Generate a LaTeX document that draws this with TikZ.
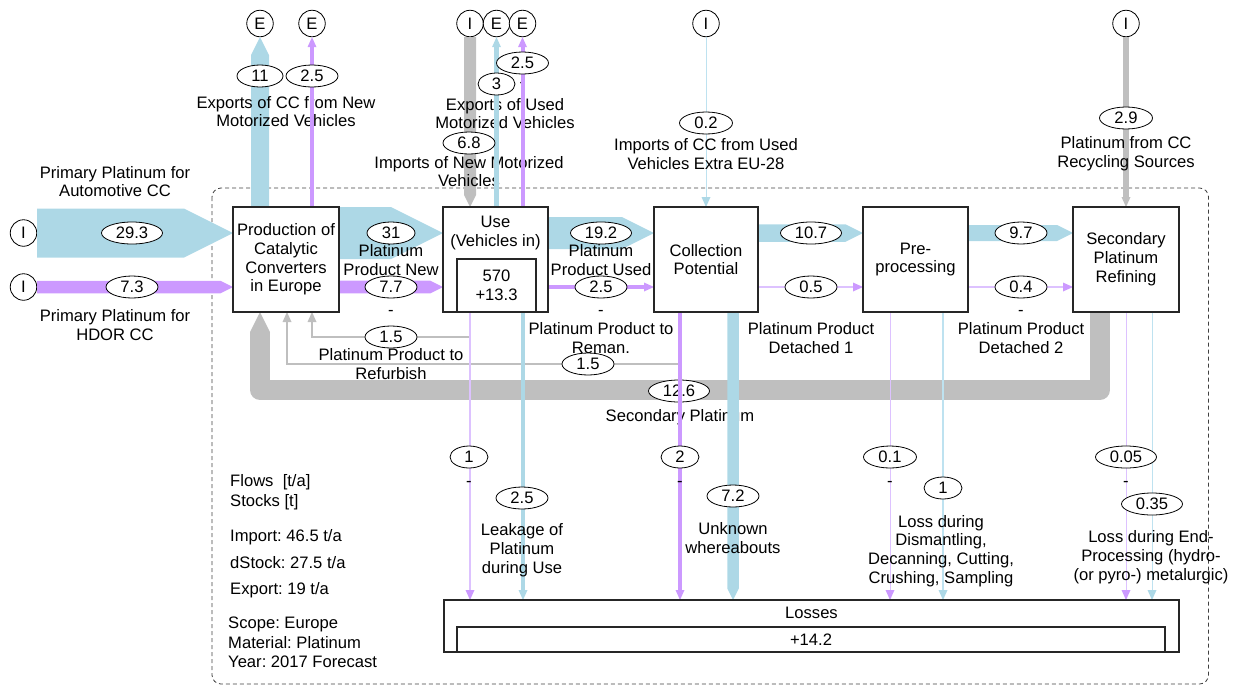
\documentclass[tikz,border=0pt]{standalone}
\usepackage{fontspec}
\setmainfont{Liberation Sans}
\usetikzlibrary{shapes.geometric,arrows.meta,calc}
\definecolor{fblue}{RGB}{173,216,230}
\definecolor{fpur}{RGB}{204,153,255}
\definecolor{fgray}{RGB}{191,191,191}
\definecolor{fbluel}{RGB}{190,226,240}
\definecolor{fpurl}{RGB}{221,194,255}
\newcommand\lblfont{\fontsize{16.6pt}{18.8pt}\selectfont\frenchspacing}
% band with arrow head: rightwards, upwards, downwards
\newcommand\bandR[4]{\fill[#1] ($(#2)+(0,-#4/2)$) -- ($(#3)+(-#4,-#4/2)$) -- (#3) -- ($(#3)+(-#4,#4/2)$) -- ($(#2)+(0,#4/2)$) -- cycle;}
\newcommand\bandU[4]{\fill[#1] ($(#2)+(-#4/2,0)$) -- ($(#3)+(-#4/2,#4)$) -- (#3) -- ($(#3)+(#4/2,#4)$) -- ($(#2)+(#4/2,0)$) -- cycle;}
\newcommand\bandD[4]{\fill[#1] ($(#2)+(-#4/2,0)$) -- ($(#3)+(-#4/2,-#4)$) -- (#3) -- ($(#3)+(#4/2,-#4)$) -- ($(#2)+(#4/2,0)$) -- cycle;}
\frenchspacing
\begin{document}
\begin{tikzpicture}[x=1pt,y=-1pt,
  every node/.style={font=\lblfont},
  lbl/.style={align=center, inner sep=0pt},
  leg/.style={anchor=west, inner sep=0pt},
  flowval/.style={ellipse, draw=black, line width=0.8pt, fill=white, inner sep=0pt, minimum height=22pt, minimum width=#1},
  procshape/.style={rectangle, inner sep=0pt, outer sep=0pt, align=center},
  procline/.style={draw=black!85, line width=1.1pt},
  term/.style={circle, draw=black, line width=0.8pt, fill=white, inner sep=0pt, minimum size=26.5pt},
  ahead/.style={-{Triangle[length=10pt,width=9pt,line width=0pt,fill=#1,color=#1]}},
]
\useasboundingbox (0,0) rectangle (1240,686);

% system boundary
\draw[black!75, line width=0.8pt, dash pattern=on 4pt off 3pt, rounded corners=9pt] (212,188) rectangle (1208.5,684);

% terminals
\node[term] (i1) at (23.5,233) {I};
\node[term] (i2) at (23.5,287) {I};
\node[term] (e1) at (260,23.5) {E};
\node[term] (e2) at (312,23.5) {E};
\node[term] (i3) at (470,23.5) {I};
\node[term] (e3) at (496.5,23.5) {E};
\node[term] (e4) at (522.5,23.5) {E};
\node[term] (i4) at (706,23.5) {I};
\node[term] (i5) at (1126,23.5) {I};

% processes (outlines drawn at the end)
\node[procshape, minimum width=106pt, minimum height=105pt] (prod) at (286,259.5) {Production of\\Catalytic\\Converters\\in Europe};
\node[procshape, minimum width=105pt, minimum height=105pt] (use) at (495.5,259.5) {};
\node[lbl] (usetxt) at (495.5,233) {Use\\(Vehicles in)};
\node[procshape, minimum width=79pt, minimum height=53pt] (stock) at (496.5,285.5) {570\\+13.3};
\node[procshape, minimum width=104pt, minimum height=105pt] (coll) at (706,259.5) {Collection\\Potential};
\node[procshape, minimum width=105pt, minimum height=105pt] (pre) at (915.5,259.5) {Pre-\\processing};
\node[procshape, minimum width=106pt, minimum height=105pt] (sec) at (1126,259.5) {Secondary\\Platinum\\Refining};
\node[procshape, minimum width=735pt, minimum height=52pt] (loss) at (811.5,626) {};
\node[lbl] (losstxt) at (811.5,613) {Losses};
\node[procshape, minimum width=708pt, minimum height=25pt] (lstock) at (811,639.5) {+14.2};

\coordinate (yb) at (0,233);
\coordinate (yp) at (0,287);

% secondary platinum loop
\coordinate (g1) at (1100,390);
\coordinate (g2) at (260,390);
\coordinate (g0) at (sec.south -| g1);
\coordinate (g3) at (g2 |- prod.south);
\draw[fgray, line width=20pt, line join=round] (g0) -- (g1) -- (g2) -- ($(g3)+(0,19.5)$);
\fill[fgray] ($(g3)+(-10,20)$) -- (g3) -- ($(g3)+(10,20)$) -- cycle;
\node[flowval=61pt] (v126) at (679,391) {12.6};
\node[lbl] (t126) at (680,417) {Secondary Platinum};

% wide bands
\coordinate (a1) at (i1.east); \coordinate (a2) at (i1 -| prod.west);
\bandR{fblue}{a1}{a2}{49}
\coordinate (b1) at (i2.east); \coordinate (b2) at (i2 -| prod.west);
\bandR{fpur}{b1}{b2}{12.5}
\coordinate (c1) at (prod.north -| e1); \coordinate (c2) at (e1.south);
\bandU{fblue}{c1}{c2}{18}
\coordinate (d1) at (prod.east |- yb); \coordinate (d2) at (use.west |- yb);
\bandR{fblue}{d1}{d2}{52}
\coordinate (d3) at (prod.east |- yp); \coordinate (d4) at (use.west |- yp);
\bandR{fpur}{d3}{d4}{12.7}
\coordinate (f1) at (i3.south); \coordinate (f2) at (i3 |- use.north);
\bandD{fgray}{f1}{f2}{12}
\coordinate (h1) at (use.east |- yb); \coordinate (h2) at (coll.west |- yb);
\bandR{fblue}{h1}{h2}{32}
\coordinate (k1) at (coll.east |- yb); \coordinate (k2) at (pre.west |- yb);
\bandR{fblue}{k1}{k2}{17.5}
\coordinate (m1) at (pre.east |- yb); \coordinate (m2) at (sec.west |- yb);
\bandR{fblue}{m1}{m2}{16}

% thinner flows
\draw[fpur, line width=4pt, ahead=fpur] (use.east |- yp) -- (coll.west |- yp);
\draw[fpurl, line width=1.2pt, ahead=fpur] (coll.east |- yp) -- (pre.west |- yp);
\draw[fpurl, line width=1.2pt, ahead=fpur] (pre.east |- yp) -- (sec.west |- yp);
\draw[fbluel, line width=1pt, ahead=fblue] (i4.south) -- (i4 |- coll.north);
\draw[fgray, line width=5.5pt, ahead=fgray] (i5.south) -- (i5 |- sec.north);

% refurbish / reman
\coordinate (r1) at (470,337); \coordinate (r2) at (312,337);
\draw[fgray, line width=2pt, ahead=fgray] (r1 |- use.south) -- (r1) -- (r2) -- (r2 |- prod.south);
\coordinate (s1) at (680,364); \coordinate (s2) at (287,364);
\draw[fgray, line width=2pt, ahead=fgray] (s1 |- coll.south) -- (s1) -- (s2) -- (s2 |- prod.south);

% losses
\coordinate (l1) at (470,0);
\coordinate (l2) at (523,0);
\coordinate (l3) at (680,0);
\coordinate (l4) at (733,0);
\coordinate (l5) at (890,0);
\coordinate (l6) at (943,0);
\coordinate (l7) at (1126,0);
\coordinate (l8) at (1152,0);
\coordinate (n1) at (l4 |- coll.south); \coordinate (n2) at (l4 |- loss.north);
\bandD{fblue}{n1}{n2}{11.5}
\draw[fpurl, line width=1.6pt, ahead=fpur] (l1 |- use.south) -- (l1 |- loss.north);
\draw[fblue, line width=4pt, ahead=fblue] (l2 |- use.south) -- (l2 |- loss.north);
\draw[fpur, line width=3.3pt, ahead=fpur] (l3 |- coll.south) -- (l3 |- loss.north);
\draw[fpurl, line width=1pt, ahead=fpur] (l5 |- pre.south) -- (l5 |- loss.north);
\draw[fbluel, line width=1.6pt, ahead=fblue] (l6 |- pre.south) -- (l6 |- loss.north);
\draw[fpurl, line width=1pt, ahead=fpur] (l7 |- sec.south) -- (l7 |- loss.north);
\draw[fbluel, line width=1pt, ahead=fblue] (l8 |- sec.south) -- (l8 |- loss.north);

% flow labels
\node[lbl] (tpp1) at (115,181.5) {Primary Platinum for\\Automotive CC};
\node[lbl] (tpp2) at (115,325) {Primary Platinum for\\HDOR CC};
\node[lbl] (tex1) at (286,111.5) {Exports of CC from New\\Motorized Vehicles};
\node[lbl] (tex2) at (505,113.5) {Exports of Used\\Motorized Vehicles};
\node[lbl] (tim1) at (469,171.5) {Imports of New Motorized\\Vehicles};
\node[lbl] (tim2) at (706,154) {Imports of CC from Used\\Vehicles Extra EU-28};
\node[lbl] (tim3) at (1126,154) {Platinum from CC\\Recycling Sources};
\node[lbl] (tpn) at (391,260) {Platinum\\Product New};
\node[lbl] (trf) at (391,364) {Platinum Product to\\Refurbish};
\node[lbl] (tpu) at (601,260) {Platinum\\Product Used};
\node[lbl] (trm) at (601,338) {Platinum Product to\\Reman.};
\node[lbl] (td1) at (811,338) {Platinum Product\\Detached 1};
\node[lbl] (td2) at (1021,338) {Platinum Product\\Detached 2};
\node[lbl] (tlk) at (522,550) {Leakage of\\Platinum\\during Use};
\node[lbl] (tuw) at (733,538) {Unknown\\whereabouts};
\node[lbl] (tld) at (941,551) {Loss during\\Dismantling,\\Decanning, Cutting,\\Crushing, Sampling};
\node[lbl] (tle) at (1151,557) {Loss during End-\\Processing (hydro-\\(or pyro-) metalurgic)};

% dashes
\node[lbl] (q1) at (391,313) {-};
\node[lbl] (q2) at (601,313) {-};
\node[lbl] (q3) at (1021,313) {-};
\node[lbl] (q4) at (469,484) {-};
\node[lbl] (q5) at (680,484) {-};
\node[lbl] (q6) at (890,484) {-};
\node[lbl] (q7) at (1126,484) {-};
\node[lbl] (q8) at (522.5,85) {-};

% legend
\node[leg] (lg1) at (230,482) {Flows\ \ [t/a]};
\node[leg] (lg2) at (230,502) {Stocks [t]};
\node[leg] (lg3) at (230,537) {Import: 46.5 t/a};
\node[leg] (lg4) at (230,563) {dStock: 27.5 t/a};
\node[leg] (lg5) at (230,590) {Export: 19 t/a};
\node[leg] (lg6) at (228,624) {Scope: Europe};
\node[leg] (lg7) at (228,643) {Material: Platinum};
\node[leg] (lg8) at (228,662) {Year: 2017 Forecast};

% export lines drawn over labels
\draw[fpur, line width=3.5pt, ahead=fpur] (prod.north -| e2) -- (e2.south);
\draw[fblue, line width=4.5pt, ahead=fblue] (use.north -| e3) -- (e3.south);
\draw[fpur, line width=4pt, ahead=fpur] (use.north -| e4) -- (e4.south);

% values
\node[flowval=61pt] (v293) at (132,233) {29.3};
\node[flowval=52pt] (v73) at (132,287) {7.3};
\node[flowval=46pt] (v11) at (260,76) {11};
\node[flowval=52pt] (v25a) at (312,76) {2.5};
\node[flowval=48pt] (v31) at (391,233) {31};
\node[flowval=52pt] (v77) at (391,287) {7.7};
\node[flowval=52pt] (v15a) at (391,337) {1.5};
\node[flowval=52pt] (v68) at (469,143) {6.8};
\node[flowval=37pt] (v3) at (496.5,84) {3};
\node[flowval=52pt] (v25b) at (522.5,63) {2.5};
\node[flowval=53pt] (v02) at (706,123) {0.2};
\node[flowval=53pt] (v29) at (1126,118) {2.9};
\node[flowval=61pt] (v192) at (601,233) {19.2};
\node[flowval=52pt] (v25c) at (601,287) {2.5};
\node[flowval=52pt] (v15b) at (588,364) {1.5};
\node[flowval=61pt] (v107) at (811,233) {10.7};
\node[flowval=52pt] (v05) at (811,287) {0.5};
\node[flowval=52pt] (v97) at (1021,233) {9.7};
\node[flowval=52pt] (v04) at (1021,287) {0.4};
\node[flowval=38pt] (v1a) at (469,457) {1};
\node[flowval=52pt] (v25d) at (522,498) {2.5};
\node[flowval=38pt] (v2) at (680,457) {2};
\node[flowval=52pt] (v72) at (733,496) {7.2};
\node[flowval=53pt] (v01) at (890,457) {0.1};
\node[flowval=38pt] (v1b) at (943,488) {1};
\node[flowval=61pt] (v005) at (1126,457) {0.05};
\node[flowval=61pt] (v035) at (1152,504) {0.35};

% process outlines
\draw[procline] (prod.south west) rectangle (prod.north east);
\draw[procline] (use.south west) rectangle (use.north east);
\draw[procline] (stock.south west) rectangle (stock.north east);
\draw[procline] (coll.south west) rectangle (coll.north east);
\draw[procline] (pre.south west) rectangle (pre.north east);
\draw[procline] (sec.south west) rectangle (sec.north east);
\draw[procline] (loss.south west) rectangle (loss.north east);
\draw[procline] (lstock.south west) rectangle (lstock.north east);
\end{tikzpicture}
\end{document}
